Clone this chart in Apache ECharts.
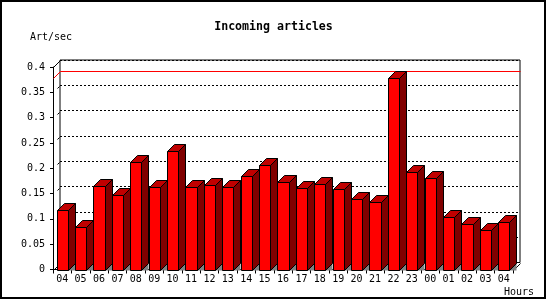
<!DOCTYPE html>
<html><head><meta charset="utf-8">
<script src="https://cdn.jsdelivr.net/npm/echarts@6/dist/echarts.min.js"></script>
<style>html,body{margin:0;padding:0;background:#fff}#c{width:550px;height:300px}</style>
</head><body><div id="c"></div>
<script>
const hours = ['04','05','06','07','08','09','10','11','12','13','14','15','16','17','18','19','20','21','22','23','00','01','02','03','04'];
const artPerSec = [0.117,0.084,0.165,0.147,0.212,0.163,0.235,0.163,0.167,0.163,0.184,0.206,0.173,0.161,0.169,0.159,0.139,0.133,0.378,0.192,0.181,0.104,0.090,0.078,0.094];
const yTicks = [0,0.05,0.1,0.15,0.2,0.25,0.3,0.35,0.4];
const titleText = 'Incoming articles';
const yName = 'Art/sec';
const xName = 'Hours';

const D = 7;
const F = 'DejaVu Sans Mono';
const maxVal = Math.max(...artPerSec);
const chart = echarts.init(document.getElementById('c'));
const G0 = {left:53, top:67, width:460, height:202.5};
const G1 = {left:G0.left+D, top:G0.top-D, width:G0.width, height:G0.height};
const lab = {fontFamily:F, fontSize:10, color:'#000'};

function barItem(params, api){
  const i = api.value(0), v = api.value(1);
  const t = api.coord([i, v]), b = api.coord([i, 0]);
  const w = api.size([1,0])[0]*0.6;
  const x0 = Math.round(t[0]-w/2)+0.5, x1 = Math.round(t[0]+w/2)+0.5;
  const yt = Math.round(t[1])+0.5, yb = Math.round(b[1])+0.5;
  return {type:'group', children:[
    {type:'polygon', shape:{points:[[x1,yb],[x1+D,yb-D],[x1+D,yb]]}, style:{fill:'#808080'}},
    {type:'polygon', shape:{points:[[x1,yt],[x1+D,yt-D],[x1+D,yb-D],[x1,yb]]}, style:{fill:'#800000', stroke:'#000', lineWidth:1}},
    {type:'polygon', shape:{points:[[x0,yt],[x0+D,yt-D],[x1+D,yt-D],[x1,yt]]}, style:{fill:'#c00000', stroke:'#000', lineWidth:1}},
    {type:'rect', shape:{x:x0, y:yt, width:x1-x0, height:yb-yt}, style:{fill:'#ff0000', stroke:'#000', lineWidth:1}}
  ]};
}
function maxItem(params, api){
  const cs = params.coordSys;
  const p = api.coord([0, api.value(1)]);
  const y = Math.round(p[1])+0.5, x = Math.round(cs.x)+0.5;
  return {type:'polyline', shape:{points:[[x,y],[x+D,y-D],[x+D+cs.width,y-D]]}, style:{stroke:'#ff0000', lineWidth:1, fill:null}};
}
function tickItem(params, api){
  const cs = params.coordSys;
  const v = api.value(1);
  const p = api.coord([0, v]);
  const y = Math.round(p[1])+0.5, x = Math.round(cs.x)+0.5;
  if (v === yTicks[yTicks.length-1] || v === 0) {
    return {type:'line', shape:{x1:x, y1:y, x2:x+D, y2:y-D}, style:{stroke:'#000', lineWidth:1}};
  }
  return {type:'line', shape:{x1:x+4, y1:y-4, x2:x+6, y2:y-6}, style:{stroke:'#000', lineWidth:1}};
}
function floorItem(params, api){
  const cs = params.coordSys;
  const x = Math.round(cs.x+cs.width)+0.5, y = Math.round(cs.y+cs.height)+0.5;
  return {type:'line', shape:{x1:x, y1:y, x2:x+D, y2:y-D}, style:{stroke:'#000', lineWidth:1}};
}

chart.setOption({
  animation:false,
  backgroundColor:'#fff',
  grid:[
    Object.assign({outerBoundsMode:'none'}, G0),
    Object.assign({outerBoundsMode:'none', show:true, borderColor:'#000', borderWidth:1, backgroundColor:'transparent'}, G1)
  ],
  xAxis:[
    {type:'category', gridIndex:0, data:hours, boundaryGap:true,
     axisLine:{lineStyle:{color:'#000', width:1}},
     axisTick:{show:true, length:4, interval:0, lineStyle:{color:'#000'}},
     axisLabel:Object.assign({interval:0, margin:5}, lab), splitLine:{show:false}},
    {type:'category', gridIndex:1, data:hours, show:false}
  ],
  yAxis:[
    {type:'value', gridIndex:0, min:0, max:0.4, interval:0.05,
     axisLine:{show:true, lineStyle:{color:'#000', width:1}},
     axisTick:{show:true, length:3, lineStyle:{color:'#000'}},
     axisLabel:Object.assign({margin:8}, lab), splitLine:{show:false}},
    {type:'value', gridIndex:1, min:0, max:0.4, interval:0.05,
     axisLine:{show:false}, axisTick:{show:false}, axisLabel:{show:false},
     splitLine:{show:true, lineStyle:{color:'#000', width:1, type:[2,2]}}}
  ],
  series:[
    {type:'custom', xAxisIndex:0, yAxisIndex:0, z:1, renderItem:tickItem, data:yTicks.map(v=>[0,v])},
    {type:'custom', xAxisIndex:0, yAxisIndex:0, z:1, renderItem:floorItem, data:[[0,0]]},
    {type:'custom', xAxisIndex:0, yAxisIndex:0, z:1, renderItem:maxItem, data:[[0,maxVal]]},
    {type:'custom', xAxisIndex:0, yAxisIndex:0, z:3, renderItem:barItem, data:artPerSec.map((v,i)=>[i,v])}
  ],
  graphic:[
    {type:'rect', shape:{x:1, y:1, width:544, height:297}, style:{fill:null, stroke:'#000', lineWidth:2}, silent:true},
    {type:'text', x:273.5, y:27, style:{text:titleText, font:'bold 11.6px "DejaVu Sans Mono"', fill:'#000', align:'center', verticalAlign:'middle'}},
    {type:'text', x:30, y:37, style:{text:yName, font:'10px "DejaVu Sans Mono"', fill:'#000', align:'left', verticalAlign:'middle'}},
    {type:'text', x:504, y:292.5, style:{text:xName, font:'10px "DejaVu Sans Mono"', fill:'#000', align:'left', verticalAlign:'middle'}}
  ]
});
</script></body></html>
